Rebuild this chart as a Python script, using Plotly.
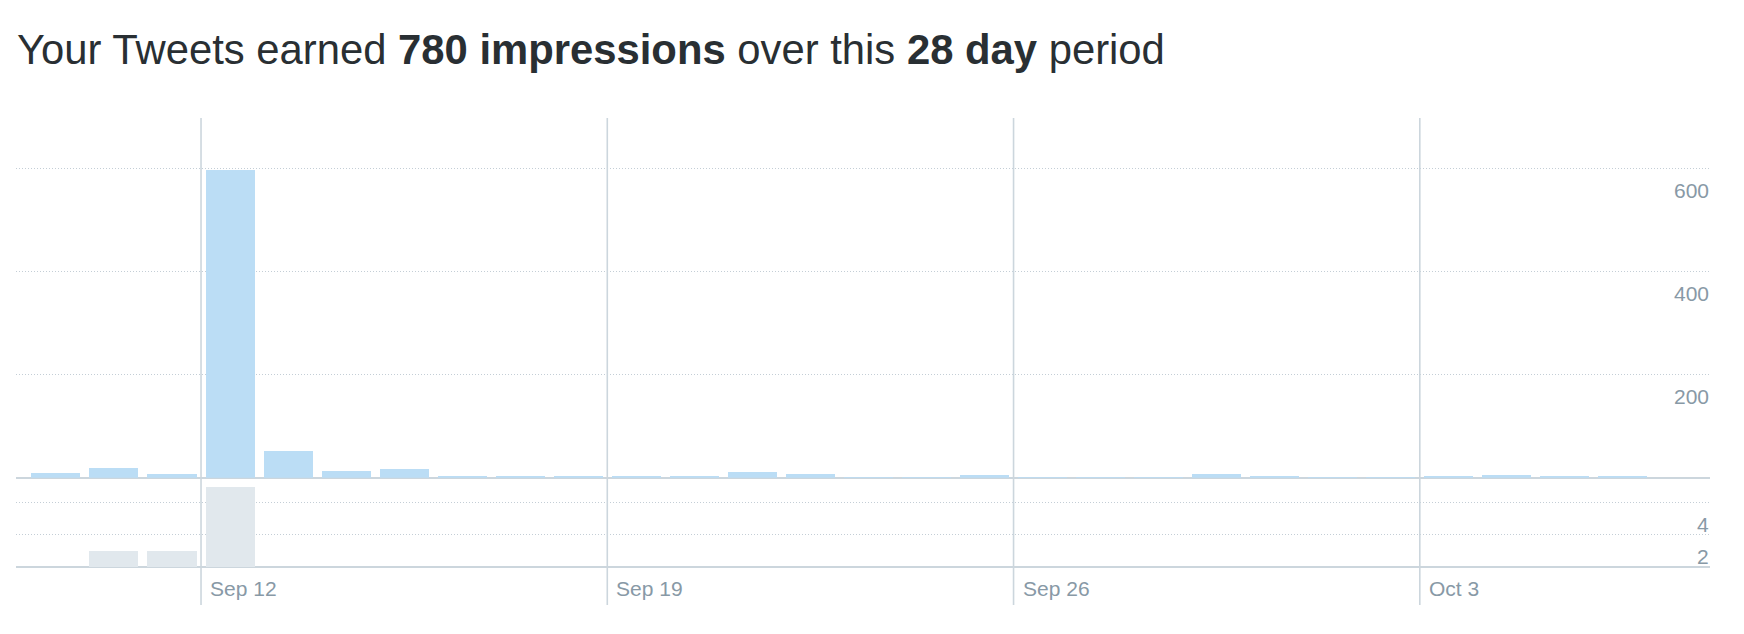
import plotly.graph_objects as go

# ---- data ----
days = ["Sep 9", "Sep 10", "Sep 11", "Sep 12", "Sep 13", "Sep 14", "Sep 15",
        "Sep 16", "Sep 17", "Sep 18", "Sep 19", "Sep 20", "Sep 21", "Sep 22",
        "Sep 23", "Sep 24", "Sep 25", "Sep 26", "Sep 27", "Sep 28", "Sep 29",
        "Sep 30", "Oct 1", "Oct 2", "Oct 3", "Oct 4", "Oct 5", "Oct 6"]
impressions = [9, 19, 7, 597, 52, 13, 17, 3, 2, 2, 2, 2, 12, 8,
               1, 1, 5, 1, 1, 1, 8, 3, 1, 1, 2, 6, 2, 2]
tweets = [0, 1, 1, 5, 0, 0, 0, 0, 0, 0, 0, 0, 0, 0,
          0, 0, 0, 0, 0, 0, 0, 0, 0, 0, 0, 0, 0, 0]
week_labels = ["Sep 12", "Sep 19", "Sep 26", "Oct 3"]
imp_ticks = [200, 400, 600]
tweet_ticks = [2, 4]
title_text = ("Your Tweets earned <b>780 impressions</b> over this "
              "<b>28 day</b> period")

# ---- styling ----
W, H = 1744, 634
FONT = "Helvetica Neue, Helvetica, Arial, Liberation Sans, sans-serif"
BLUE = "#BBDDF5"
GREY_BAR = "#E1E8ED"
LINE = "#CCD6DD"
GRID = "#C4CED6"
TICK = "#8899A6"
TEXT = "#292F33"

x = list(range(len(days)))

fig = go.Figure()
fig.add_trace(go.Bar(x=x, y=impressions, marker=dict(color=BLUE, line_width=0),
                     width=0.845, xaxis="x", yaxis="y", hoverinfo="skip"))
fig.add_trace(go.Bar(x=x, y=tweets, marker=dict(color=GREY_BAR, line_width=0),
                     width=0.845, xaxis="x", yaxis="y2", hoverinfo="skip"))

margin_t, margin_b = 118, 67
plot_h = H - margin_t - margin_b
split = (567 - 477.7) / plot_h

xr = [-0.688, 28.5]
axis_common = dict(side="right", ticks="", showticklabels=False,
                   showgrid=True, gridcolor=GRID, griddash="1px,2px",
                   gridwidth=1, zeroline=True, zerolinecolor=LINE,
                   zerolinewidth=2, showline=False, fixedrange=True)
fig.update_layout(
    width=W, height=H,
    margin=dict(l=16, r=34, t=margin_t, b=margin_b),
    paper_bgcolor="white", plot_bgcolor="white",
    showlegend=False,
    bargap=0,
    font=dict(family=FONT, color=TICK, size=21),
    title=dict(text=title_text, x=17 / W, xanchor="left", xref="container",
               y=1 - 49 / H, yanchor="middle", yref="container",
               font=dict(family=FONT, size=41.8, color=TEXT)),
    xaxis=dict(range=xr, showgrid=False, zeroline=False, showticklabels=False,
               ticks="", showline=False, fixedrange=True),
    yaxis=dict(domain=[split, 1], range=[0, 697], tickvals=imp_ticks,
               **axis_common),
    yaxis2=dict(domain=[0, split], range=[0, 5.55], tickvals=tweet_ticks,
                **axis_common),
)

# tick labels sit just below their gridline, right-aligned at the plot edge
for ref, vals in (("y", imp_ticks), ("y2", tweet_ticks)):
    for v in vals:
        fig.add_annotation(x=1, xref="paper", y=v, yref=ref, text=str(v),
                           showarrow=False, xanchor="right", yanchor="middle",
                           yshift=-22, borderpad=0,
                           font=dict(family=FONT, size=21, color=TICK))

label_y = (567 - 588) / plot_h
line_bottom = (567 - 605) / plot_h
for lab in week_labels:
    pos = days.index(lab) - 0.5
    fig.add_shape(type="line", xref="x", yref="paper", x0=pos, x1=pos,
                  y0=line_bottom, y1=1, line=dict(color=LINE, width=1.6),
                  layer="above")
    fig.add_annotation(x=pos, xref="x", y=label_y, yref="paper", text=lab,
                       showarrow=False, xanchor="left", yanchor="middle",
                       xshift=7, font=dict(family=FONT, size=21, color=TICK))

fig.write_html("out.html", config={"displayModeBar": False},
               post_script="document.body.style.margin='0';")
